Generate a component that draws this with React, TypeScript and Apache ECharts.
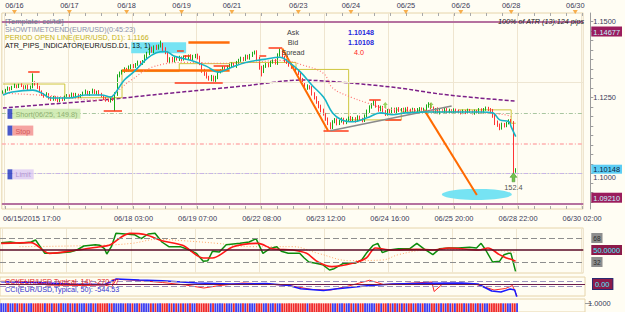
import React, { useEffect, useRef } from "react";
import * as echarts from "echarts";

// ---------------- data (prices in pips above 1.1000) ----------------
const N_CAT = 254;
const firstOpenPips = 268;
const closePips = [
  270, 276, 282, 279, 285, 290, 286, 292, 288, 283, 287, 280, 285, 300, 296,
  284, 270, 262, 255, 262, 250, 244, 252, 246, 240, 248, 245,
  252, 258, 255, 262, 256, 260, 254,
  258, 265, 270, 262, 268, 274, 266, 270, 262,
  255, 248, 242, 240, 246, 244, 262, 322, 330,
  338, 345, 340, 350, 356, 352, 360, 366, 362, 370, 385,
  395, 410, 402, 418, 412, 420, 425, 410, 398, 372,
  378, 372, 380, 376, 382,
  376, 384, 380, 388, 378, 384, 390, 382,
  362, 340, 328, 318, 312, 320, 308, 316,
  334, 340, 348, 344, 352, 356, 360, 354, 366,
  372, 380, 376, 386, 380, 390, 396, 400, 380, 350, 336,
  352, 360, 356, 366, 372, 364, 390, 400, 384, 372,
  366, 358, 350, 345, 338, 330, 310, 296, 282, 286, 284,
  262, 250, 235, 222, 208, 196, 180, 165, 152,
  170, 178, 165, 172, 180, 168, 176, 184,
  176, 182, 174, 186, 180, 175, 190,
  205, 220, 228, 236, 222, 210, 218, 205,
  196, 208, 200, 212, 204, 214,
  208, 212, 206, 214, 210, 208, 212, 206, 210, 214, 208, 212,
  222, 228, 216,
  204, 212, 200, 208, 206, 212, 202, 208, 204, 210, 206, 204,
  200, 206, 202, 208, 204, 200, 206, 202, 210, 204,
  212, 216, 210, 208, 190, 168, 160, 150, 162, 158, 166, 174, 170,
  5, 15,
];
const wickUp = [
  4, 3, 5, 3, 4, 6, 3, 4, 5, 3, 4, 6, 5, 30, 4, 3, 5, 4, 3, 6, 3, 5, 4, 3, 5,
  4, 3, 5, 4, 3, 5, 4, 6, 3, 4, 5, 7, 3, 4, 6, 4, 3, 5, 4, 3, 4, 5, 3, 4, 6,
  5, 6, 4, 5, 3, 6, 4, 5, 4, 6, 5, 4, 7, 6, 5, 8, 4, 6, 5, 13, 5, 6, 4, 5, 6,
  4, 5, 6, 4, 5, 6, 4, 5, 7, 4, 5, 6, 4, 5, 6, 4, 5, 3, 6, 5, 4, 6, 5, 4, 5,
  6, 4, 5, 6, 5, 4, 6, 5, 4, 5, 5, 6, 4, 5, 6, 4, 5, 6, 4, 5, 6, 12, 5, 4, 6,
  4, 5, 6, 4, 5, 6, 5, 4, 8, 5, 4, 6, 5, 4, 5, 6, 4, 5, 4, 6, 5, 4, 6, 5, 4,
  5, 4, 6, 5, 4, 6, 5, 4, 5, 6, 5, 4, 6, 5, 4, 6, 5, 4, 5, 4, 6, 5, 4, 5, 4,
  5, 4, 6, 4, 5, 4, 6, 5, 4, 5, 6, 7, 4, 5, 4, 6, 5, 4, 5, 4, 6, 4, 5, 4, 5,
  4, 5, 4, 6, 5, 4, 5, 4, 6, 5, 4, 5, 4, 6, 5, 6, 7, 5, 6, 5, 4, 5, 6, 3, 3,
];
const wickDn = [
  5, 4, 3, 6, 4, 3, 5, 4, 3, 6, 4, 5, 3, 4, 6, 5, 4, 6, 5, 4, 6, 5, 4, 6, 5,
  4, 6, 5, 4, 3, 5, 4, 6, 5, 4, 3, 5, 4, 6, 5, 4, 6, 5, 4, 6, 5, 4, 6, 5, 38,
  6, 5, 4, 6, 5, 4, 6, 5, 4, 5, 6, 4, 5, 6, 5, 4, 6, 5, 4, 5, 6, 5, 6, 8, 5,
  6, 4, 5, 6, 4, 5, 4, 6, 5, 4, 6, 5, 8, 6, 5, 6, 8, 5, 6, 5, 4, 6, 5, 4, 6,
  5, 4, 6, 5, 4, 6, 5, 4, 5, 6, 4, 6, 8, 16, 5, 4, 6, 5, 4, 5, 6, 5, 4, 6, 5,
  6, 5, 4, 6, 5, 6, 5, 4, 6, 7, 5, 6, 5, 7, 6, 5, 6, 5, 6, 5, 4, 6, 5, 4, 6,
  5, 6, 4, 5, 6, 4, 5, 6, 5, 4, 5, 6, 4, 5, 6, 5, 4, 6, 5, 4, 5, 4, 6, 5, 4,
  5, 4, 6, 5, 4, 5, 4, 6, 5, 4, 6, 5, 4, 5, 6, 4, 5, 4, 6, 5, 4, 5, 6, 5, 4,
  5, 4, 6, 5, 4, 5, 6, 4, 5, 4, 6, 5, 4, 5, 6, 8, 6, 7, 5, 6, 5, 4, 6, 3, 2,
];

// indicator lines: [bar index, pips]
const tealMA: [number, number][] = [
  [0, 259], [4, 269], [13, 275], [17, 265], [21, 249], [29, 249], [36, 259], [43, 259],
  [47, 252], [49, 265], [53, 308], [57, 334], [63, 379], [67, 398], [71, 402], [75, 386],
  [82, 373], [89, 353], [94, 334], [99, 347], [106, 366], [114, 376], [121, 383], [125, 366],
  [130, 334], [135, 291], [140, 252], [144, 200], [148, 177], [153, 171], [159, 184],
  [165, 200], [170, 194], [176, 200], [185, 203], [194, 203], [209, 203], [214, 200],
  [217, 177], [221, 171], [222, 154], [224, 122],
];
const pinkMA: [number, number][] = [
  [0, 265], [21, 256], [42, 242], [56, 308], [65, 350], [79, 366], [94, 363], [108, 366],
  [122, 373], [131, 357], [140, 330], [144, 282], [152, 252], [159, 233], [166, 216],
  [173, 210], [191, 207], [211, 200], [220, 193], [222, 187],
];
const purpleMA: [number, number][] = [
  [0, 216], [21, 229], [43, 242], [69, 262], [91, 278], [108, 291], [130, 308],
  [152, 298], [173, 282], [191, 262], [208, 249], [224, 239],
];
const dayOpen: [number, number][] = [
  [0, 295], [27, 250], [52, 336], [77, 362], [99, 366], [128, 343], [151, 177],
  [174, 203], [199, 210], [222, 166], [224, 166],
];

// annotations: [fromIdx, toIdx, pips]
const fractalMarks: [number, number, number][] = [
  [11, 16, 334], [44, 52, 207], [75, 96, 298], [116, 122, 415], [140, 151, 141],
  [160, 165, 242], [76, 79, 404], [79, 82, 389], [92, 99, 356], [112, 115, 389], [167, 174, 178],
];
const thickLevels: [number, number, number][] = [[52, 99, 340], [81, 99, 432]];
const orangeTrends: [number, number, number, number][] = [[122, 412, 142, 141], [184, 210, 207, -70]];
const greyTrend: [number, number, number, number] = [143, 141, 196, 223];
const cyanBox: [number, number, number, number] = [56, 432, 80, 396];
const ellipseAt: [number, number] = [207, -68];
const signalArrow: [number, number] = [223, -12];
const smallArrows: [number, number][] = [[167, 226], [187, 226]];

// price levels
const upperLevel = 1.14677;
const lowerLevel = 1.0921;
const bidLevel = 1.10148;
const shortLevel = 1.1164;
const stopLevel = 1.1109;
const limitLevel = 1.0965;
const sideTexts = ["Short(06/25, 149.8)", "Stop", "Limit"];
const sideLevels = [shortLevel, stopLevel, limitLevel];
const priceTags = [1.14677, 1.10148, 1.0921];
const priceLabels = [1.1, 1.125, 1.15];
const priceTicks = [
  1.090625, 1.09375, 1.096875, 1.1, 1.103125, 1.10625, 1.109375, 1.1125, 1.115625, 1.11875,
  1.121875, 1.125, 1.128125, 1.13125, 1.134375, 1.1375, 1.140625, 1.14375, 1.146875, 1.15,
];

// TDI
const tdiGreen: [number, number][] = [
  [0, 61], [4, 62], [8, 60], [13, 62], [15, 65], [17, 55], [19, 45], [23, 45], [30, 47], [33, 50],
  [36, 56], [41, 58], [43, 57], [45, 52], [46, 44], [48, 55], [50, 75], [54, 74], [58, 73],
  [61, 67], [64, 74], [67, 75], [70, 62], [73, 55], [78, 55], [82, 50], [85, 45], [88, 33],
  [90, 34], [92, 48], [95, 47], [98, 58], [104, 60], [108, 62], [111, 67], [114, 45], [117, 52],
  [120, 55], [122, 48], [125, 45], [130, 45], [132, 38], [134, 32], [137, 30], [140, 28],
  [143, 20], [145, 22], [149, 30], [154, 30], [157, 35], [159, 45], [162, 57], [164, 60],
  [166, 46], [169, 50], [173, 52], [178, 52], [181, 60], [184, 52], [188, 43], [191, 52],
  [195, 53], [199, 53], [204, 54], [207, 53], [209, 60], [211, 50], [214, 32], [217, 33],
  [219, 43], [221, 45], [222, 45], [224, 18],
];
const tdiRed: [number, number][] = [
  [0, 60], [13, 61], [21, 45], [33, 50], [43, 55], [47, 57], [56, 75], [63, 73], [70, 64],
  [79, 57], [88, 38], [92, 38], [101, 55], [112, 60], [118, 52], [127, 50], [133, 45],
  [138, 32], [144, 25], [153, 30], [159, 38], [163, 53], [170, 50], [181, 51], [188, 50],
  [195, 53], [208, 50], [212, 53], [217, 43], [220, 38], [222, 36], [224, 33],
];
const tdiBase: [number, number][] = [
  [8, 55], [43, 57], [57, 60], [68, 66], [79, 64], [94, 60], [109, 55], [127, 55], [138, 45],
  [152, 34], [166, 35], [173, 43], [185, 50], [202, 51], [221, 48], [224, 46],
];
const tdiLevels = [32, 50, 68];

// CCI
const cci14: [number, number][] = [
  [0, 110], [13, 100], [20, -40], [35, -60], [45, -40], [48, -120], [50, 190], [60, 140],
  [70, 60], [80, -40], [88, -160], [95, -60], [105, 40], [115, 0], [125, -60], [135, -220],
  [143, -240], [150, -100], [160, 150], [166, -20], [175, 20], [187, 80], [188, -300],
  [192, 30], [205, 20], [214, -240], [219, -180], [222, -60], [224, -480],
];
const cci50: [number, number][] = [
  [0, 90], [15, 60], [30, 0], [45, -20], [50, 200], [60, 160], [70, 130], [85, 40], [100, 0],
  [115, 20], [125, -60], [130, -190], [140, -260], [145, -200], [160, -60], [170, 0], [185, 30],
  [200, 40], [207, 0], [213, -280], [217, -320], [221, -200], [223, -240], [224, -560],
];

// axis labels
const bottomLabelIdx = [0, 57, 85, 113, 141, 169, 197, 225, 253];
const bottomLabels = [
  "06/15/2015 17:00", "06/18 03:00", "06/19 07:00", "06/22 08:00", "06/23 12:00",
  "06/24 16:00", "06/25 20:00", "06/28 22:00", "06/30 02:00",
];
const topLabelIdx = [5, 29, 54, 78, 100, 129, 152, 176, 200, 222, 250];
const topLabels = ["06/16", "06/17", "06/18", "06/19", "06/21", "06/23", "06/24", "06/25", "06/26", "06/28", "06/30"];
const gridLineIdx = [1, 29, 57, 85, 113, 141, 169, 197, 225, 253];

// ---------------- chart ----------------
const FONT = "Liberation Sans";
const BG = "#fffdf3";
const FRAME = "#e6d4aa";
const AXT = "#3a3a58";
const pr = (p: number) => +(1.1 + p / 10000).toFixed(5);
const Y_MIN = 1.08839;
const Y_MAX = 1.15286;

export default function App() {
  const ref = useRef<HTMLDivElement>(null);
  useEffect(() => {
    if (!ref.current) return;
    const chart = echarts.init(ref.current, null, { renderer: "svg" });
    const cats = Array.from({ length: N_CAT }, (_, i) => String(i));
    const candles = closePips.map((c, i) => {
      const o = i === 0 ? firstOpenPips : closePips[i - 1];
      const hi = Math.max(o, c) + wickUp[i];
      const lo = Math.min(o, c) - wickDn[i];
      return [pr(o), pr(c), pr(lo), pr(hi)];
    });
    const strip = closePips.map((c, i) => {
      const o = i === 0 ? firstOpenPips : closePips[i - 1];
      return { value: 1, itemStyle: { color: c >= o ? "#3b3cf2" : "#f0282a" } };
    });
    const toPrice = (a: [number, number][]) => a.map(([i, p]) => [i, pr(p)]);

    const gridSet = new Set(gridLineIdx);
    const catAxis = (gridIndex: number, extra: any = {}) => ({
      type: "category",
      gridIndex,
      data: cats,
      boundaryGap: true,
      axisLine: { show: false },
      axisTick: { show: false },
      axisLabel: { show: false },
      splitLine: {
        show: true,
        interval: (i: number) => gridSet.has(i),
        lineStyle: { color: "#efe5cf", width: 1 },
      },
      ...extra,
    });
    const tick7 = {
      show: true,
      inside: true,
      length: 3,
      alignWithLabel: true,
      interval: (i: number) => i % 7 === 1,
      lineStyle: { color: "#a9a9a9" },
    };
    const lblFont = { fontFamily: FONT, fontSize: 7.4, color: AXT };

    const seg = (a: number[], b: number[], lineStyle: any) => [
      { coord: a, lineStyle },
      { coord: b, lineStyle },
    ];
    const sideStyles = [
      { bg: "#c7e7a7", fg: "#7f9f62" },
      { bg: "#f28c8c", fg: "#c94545" },
      { bg: "#dcc8f2", fg: "#a487c8" },
    ];

    const mainMarkLines: any[] = [
      { yAxis: 1.15, lineStyle: { color: "#eee6d2", width: 1, type: "solid" } },
      { yAxis: 1.125, lineStyle: { color: "#eee6d2", width: 1, type: "solid" } },
      { yAxis: 1.1, lineStyle: { color: "#eee6d2", width: 1, type: "solid" } },
      { yAxis: upperLevel, lineStyle: { color: "#b5719f", width: 2, type: "solid" } },
      { yAxis: lowerLevel, lineStyle: { color: "#b5719f", width: 2, type: "solid" } },
      { yAxis: bidLevel, lineStyle: { color: "#55c8f2", width: 1, type: [1, 2] } },
      { yAxis: shortLevel, lineStyle: { color: "#a9c6a0", width: 1, type: [4, 2, 1, 2] } },
      { yAxis: stopLevel, lineStyle: { color: "#ffb0b0", width: 1.5, type: [4, 2, 1, 2] } },
      { yAxis: limitLevel, lineStyle: { color: "#cdb4e6", width: 1, type: [4, 2, 1, 2] } },
      ...thickLevels.map(([a, b, p]) => seg([a, pr(p)], [b, pr(p)], { color: "#ff6c0a", width: 2.5, type: "solid" })),
      ...fractalMarks.map(([a, b, p]) => seg([a, pr(p)], [b, pr(p)], { color: "#ff3a1a", width: 1.5, type: "solid" })),
      ...orangeTrends.map(([a, p, b, q]) => seg([a, pr(p)], [b, pr(q)], { color: "#ff6a00", width: 2, type: "solid" })),
      seg([greyTrend[0], pr(greyTrend[1])], [greyTrend[2], pr(greyTrend[3])], { color: "#8a8a8a", width: 1.5, type: "solid" }),
    ];

    const tagRich = {
      t0: { backgroundColor: "#9b1c5d", color: "#c4f6ff", fontFamily: FONT, fontSize: 7.4, padding: [2, 2, 1, 2] },
      t1: { backgroundColor: "#5ccdf4", color: "#0b1d3d", fontFamily: FONT, fontSize: 7.4, padding: [1, 2, 1, 2] },
      t2: { backgroundColor: "#9b1c5d", color: "#c4f6ff", fontFamily: FONT, fontSize: 7.4, padding: [2, 2, 1, 2] },
    };

    const arrowPath = "path://M5,0 L10,5 L7,5 L7,10 L3,10 L3,5 L0,5 Z";

    const txt = (text: string, x: number, y: number, fill: string, extra: any = {}) => ({
      type: "text",
      x,
      y,
      silent: true,
      style: {
        text,
        fill,
        fontFamily: FONT,
        fontSize: extra.fontSize || 7.2,
        verticalAlign: "middle",
        textVerticalAlign: "middle",
        align: extra.align || "left",
        textAlign: extra.align || "left",
        fontWeight: extra.fontWeight || "normal",
        fontStyle: extra.fontStyle || "normal",
      },
      z: 100,
    });

    const option: any = {
      animation: false,
      backgroundColor: BG,
      textStyle: { fontFamily: FONT },
      grid: [
        { left: 0, top: 13, width: 585, height: 196, show: true, borderColor: FRAME, borderWidth: 1, backgroundColor: "transparent" },
        { left: 0, top: 228, width: 585, height: 45, show: true, borderColor: FRAME, borderWidth: 1, backgroundColor: "transparent" },
        { left: 0, top: 277, width: 585, height: 19, show: true, borderColor: FRAME, borderWidth: 1, backgroundColor: "transparent" },
        { left: 0, top: 299, width: 585, height: 19.5, show: true, borderColor: FRAME, borderWidth: 1, backgroundColor: "transparent" },
      ],
      xAxis: [
        catAxis(0, {
          position: "bottom",
          axisTick: tick7,
          axisLabel: {
            show: true,
            ...lblFont,
            margin: 6,
            alignMinLabel: "left",
            interval: (i: number) => bottomLabelIdx.includes(i),
            formatter: (_v: string, i: number) => bottomLabels[bottomLabelIdx.indexOf(i)] ?? "",
          },
        }),
        catAxis(0, {
          position: "top",
          splitLine: { show: false },
          axisTick: { ...tick7, inside: true },
          axisLabel: {
            show: true,
            ...lblFont,
            margin: 4,
            interval: (i: number) => topLabelIdx.includes(i),
            formatter: (_v: string, i: number) => topLabels[topLabelIdx.indexOf(i)] ?? "",
          },
        }),
        catAxis(1),
        catAxis(2, { splitLine: { show: false } }),
        catAxis(3, { splitLine: { show: false } }),
      ],
      yAxis: [
        {
          type: "value",
          gridIndex: 0,
          position: "right",
          offset: 7,
          min: Y_MIN,
          max: Y_MAX,
          axisLine: { show: true, lineStyle: { color: "#9c9c9c" } },
          axisTick: { show: true, length: 3, customValues: priceTicks, lineStyle: { color: "#9c9c9c" } },
          axisLabel: {
            ...lblFont,
            margin: 3,
            customValues: priceLabels,
            formatter: (v: number) => (Math.abs(v - 1.1) < 1e-6 ? `{d|${v.toFixed(4)}}` : v.toFixed(4)),
            rich: { d: { fontFamily: FONT, fontSize: 7.4, color: AXT, padding: [8, 0, 0, 0] } },
          },
          splitLine: { show: false },
        },
        {
          type: "value",
          gridIndex: 0,
          position: "right",
          offset: 7,
          min: Y_MIN,
          max: Y_MAX,
          z: 20,
          axisLine: { show: false },
          axisTick: { show: false },
          splitLine: { show: false },
          axisLabel: {
            margin: 1,
            customValues: priceTags,
            formatter: (v: number) => {
              const k = priceTags.findIndex((t) => Math.abs(t - v) < 1e-6);
              return `{t${k}|${priceTags[k].toFixed(5)}}`;
            },
            rich: tagRich,
          },
        },
        {
          type: "value",
          gridIndex: 1,
          position: "right",
          offset: 7,
          min: 15.5,
          max: 83,
          axisLine: { show: false },
          axisTick: { show: false },
          splitLine: { show: false },
          axisLabel: {
            margin: 1,
            customValues: tdiLevels,
            formatter: (v: number) => (v === 50 ? "{m|50.0000}" : `{g|${v}}`),
            rich: {
              m: { backgroundColor: "#8c1a4a", color: "#45eeff", fontFamily: FONT, fontSize: 7.4, padding: [2, 2, 1, 2] },
              g: { backgroundColor: "#8e8e8e", color: "#2a2a2a", fontFamily: FONT, fontSize: 6.5, padding: [2, 2, 1, 2] },
            },
          },
        },
        {
          type: "value",
          gridIndex: 2,
          position: "right",
          offset: 7,
          min: -480,
          max: 280,
          axisLine: { show: false },
          axisTick: { show: false },
          splitLine: { show: false },
          axisLabel: {
            margin: 1,
            customValues: [0],
            formatter: () => "{m|0.00}",
            rich: {
              m: { backgroundColor: "#8c1a4a", color: "#45eeff", fontFamily: FONT, fontSize: 7.4, padding: [2, 3, 1, 2], borderColor: "#2a2a70", borderWidth: 1 },
            },
          },
        },
        {
          type: "value",
          gridIndex: 3,
          position: "right",
          offset: 0,
          min: 0,
          max: 1.5,
          axisLine: { show: false },
          axisTick: { show: true, length: 7, customValues: [1], lineStyle: { color: "#9c9c9c" } },
          splitLine: { show: false },
          axisLabel: { ...lblFont, margin: 3, customValues: [1], formatter: (v: number) => v.toFixed(4) },
        },
      ],
      series: [
        {
          type: "candlestick",
          xAxisIndex: 0,
          yAxisIndex: 0,
          data: candles,
          barWidth: 1.3,
          z: 4,
          itemStyle: {
            color: "#34c234",
            color0: "#ffa8a8",
            borderColor: "#18aa18",
            borderColor0: "#ff3434",
            borderWidth: 1,
          },
          markArea: {
            silent: true,
            itemStyle: { color: "#6fe2f2", opacity: 0.95 },
            data: [[{ coord: [cyanBox[0], pr(cyanBox[1])] }, { coord: [cyanBox[2], pr(cyanBox[3])] }]],
          },
          markLine: {
            silent: true,
            symbol: ["none", "none"],
            label: { show: false },
            emphasis: { disabled: true },
            data: mainMarkLines,
          },
        },
        {
          type: "line",
          xAxisIndex: 0,
          yAxisIndex: 0,
          data: toPrice(purpleMA),
          symbol: "none",
          smooth: 0.3,
          z: 3,
          lineStyle: { color: "#7c1f88", width: 1.5, type: [4, 2] },
        },
        {
          type: "line",
          xAxisIndex: 0,
          yAxisIndex: 0,
          data: toPrice(dayOpen),
          symbol: "none",
          step: "end",
          z: 3,
          lineStyle: { color: "#cfc63e", width: 1 },
        },
        {
          type: "line",
          xAxisIndex: 0,
          yAxisIndex: 0,
          data: toPrice(pinkMA),
          symbol: "none",
          smooth: 0.4,
          z: 5,
          lineStyle: { color: "#ff7878", width: 1.2, type: [1, 2] },
        },
        {
          type: "line",
          xAxisIndex: 0,
          yAxisIndex: 0,
          data: toPrice(tealMA),
          symbol: "none",
          smooth: 0.4,
          z: 6,
          lineStyle: { color: "#18b4c6", width: 1.6 },
        },
        {
          type: "scatter",
          xAxisIndex: 1,
          yAxisIndex: 0,
          clip: false,
          symbol: "triangle",
          symbolRotate: 180,
          symbolSize: [5, 4],
          symbolOffset: [0, -1],
          itemStyle: { color: "#f59a23" },
          data: topLabelIdx.map((i) => [i, Y_MAX]),
          z: 10,
        },
        {
          type: "scatter",
          xAxisIndex: 0,
          yAxisIndex: 0,
          symbol: "circle",
          symbolSize: [70, 11],
          itemStyle: { color: "#6fe2f2", opacity: 0.95 },
          data: [[ellipseAt[0], pr(ellipseAt[1])]],
          z: 2,
        },
        {
          type: "scatter",
          xAxisIndex: 0,
          yAxisIndex: 0,
          symbol: arrowPath,
          symbolSize: [7, 9],
          itemStyle: { color: "#4fb424", borderColor: "#2a7a10", borderWidth: 0.5 },
          label: { show: true, position: "bottom", distance: 2, formatter: "152.4", fontFamily: FONT, fontSize: 7.4, color: "#222" },
          data: [[signalArrow[0], pr(signalArrow[1])]],
          z: 12,
        },
        {
          type: "scatter",
          xAxisIndex: 0,
          yAxisIndex: 0,
          symbol: arrowPath,
          symbolSize: [5, 6],
          itemStyle: { color: "#7cc83a" },
          data: smallArrows.map(([i, p]) => [i, pr(p)]),
          z: 12,
        },
        {
          // order labels (Short / Stop / Limit), anchored on their price levels
          type: "scatter",
          xAxisIndex: 0,
          yAxisIndex: 0,
          symbolSize: 0,
          silent: true,
          z: 15,
          data: sideLevels.map((v, k) => ({
            value: [0, v],
            label: {
              show: true,
              position: "right",
              distance: 4.5,
              offset: [0, -10],
              formatter: `{q| }{s|${sideTexts[k]}}`,
              rich: {
                q: { backgroundColor: "#1c2fbf", width: 5, height: 10 },
                s: {
                  backgroundColor: sideStyles[k].bg,
                  color: sideStyles[k].fg,
                  fontFamily: FONT,
                  fontSize: 7.2,
                  padding: [2, 3, 1, 3],
                },
              },
            },
          })),
        },
        // TDI
        {
          type: "line",
          xAxisIndex: 2,
          yAxisIndex: 2,
          data: tdiBase,
          symbol: "none",
          smooth: 0.4,
          lineStyle: { color: "#ffa766", width: 1, type: [1, 2] },
          markLine: {
            silent: true,
            symbol: ["none", "none"],
            label: { show: false },
            data: [
              { yAxis: 68, lineStyle: { color: "#8e8e8e", width: 1, type: [6, 3] } },
              { yAxis: 32, lineStyle: { color: "#8e8e8e", width: 1, type: [6, 3] } },
              { yAxis: 50, lineStyle: { color: "#5a0a26", width: 1.5, type: "solid" } },
            ],
          },
        },
        {
          type: "line",
          xAxisIndex: 2,
          yAxisIndex: 2,
          data: tdiGreen,
          symbol: "none",
          lineStyle: { color: "#0c8c0c", width: 1.5 },
        },
        {
          type: "line",
          xAxisIndex: 2,
          yAxisIndex: 2,
          data: tdiRed,
          symbol: "none",
          smooth: 0.3,
          lineStyle: { color: "#ff1717", width: 1.6 },
        },
        // CCI
        {
          type: "line",
          xAxisIndex: 3,
          yAxisIndex: 3,
          data: cci14,
          symbol: "none",
          lineStyle: { color: "#ff2525", width: 1 },
          markLine: {
            silent: true,
            symbol: ["none", "none"],
            label: { show: false },
            data: [
              { yAxis: 100, lineStyle: { color: "#9c92bc", width: 1, type: [6, 3] } },
              { yAxis: 0, lineStyle: { color: "#6a1a4a", width: 1, type: "solid" } },
              { yAxis: -100, lineStyle: { color: "#9c92bc", width: 1, type: [6, 3] } },
            ],
          },
        },
        {
          type: "line",
          xAxisIndex: 3,
          yAxisIndex: 3,
          data: cci50,
          symbol: "none",
          lineStyle: { color: "#1a1aff", width: 1.5 },
        },
        // strip
        {
          type: "bar",
          xAxisIndex: 4,
          yAxisIndex: 4,
          data: strip,
          barWidth: 1.8,
        },
      ],
      graphic: [
        txt("[Template: cci/tdi]", 5, 21.5, "#6a7890", { fontSize: 7.6 }),
        txt("SHOWTIMETOEND(EUR/USD)(0:45:23)", 5, 29.5, "#8a90a8"),
        txt("PERIOD OPEN LINE(EUR/USD, D1): 1.1166", 5, 37.5, "#c6b216"),
        txt("ATR_PIPS_INDICATOR(EUR/USD.D1, 13, 1)", 5, 45, "#111111"),
        txt("Ask", 293, 32, "#404040", { align: "center" }),
        txt("Bid", 293, 42, "#404040", { align: "center" }),
        txt("Spread", 293, 52, "#404040", { align: "center" }),
        txt("1.10148", 361, 32, "#2626dc", { align: "center", fontWeight: "bold" }),
        txt("1.10108", 361, 42, "#2626dc", { align: "center", fontWeight: "bold" }),
        txt("4.0", 359, 52, "#ff2020", { align: "center" }),
        txt("100% of ATR (13):124 pips", 584, 21.5, "#222222", { align: "right", fontStyle: "italic" }),
        txt("CCI(EUR/USD,Typical, 14): -270.77", 5, 281, "#e62020"),
        txt("CCI(EUR/USD,Typical, 50): -544.53", 5, 289.5, "#3030d0"),
      ],
    };
    chart.setOption(option);
    return () => chart.dispose();
  }, []);
  return (
    <div
      ref={ref}
      style={{ position: "fixed", left: 0, top: 0, width: 625, height: 312, background: BG }}
    />
  );
}
